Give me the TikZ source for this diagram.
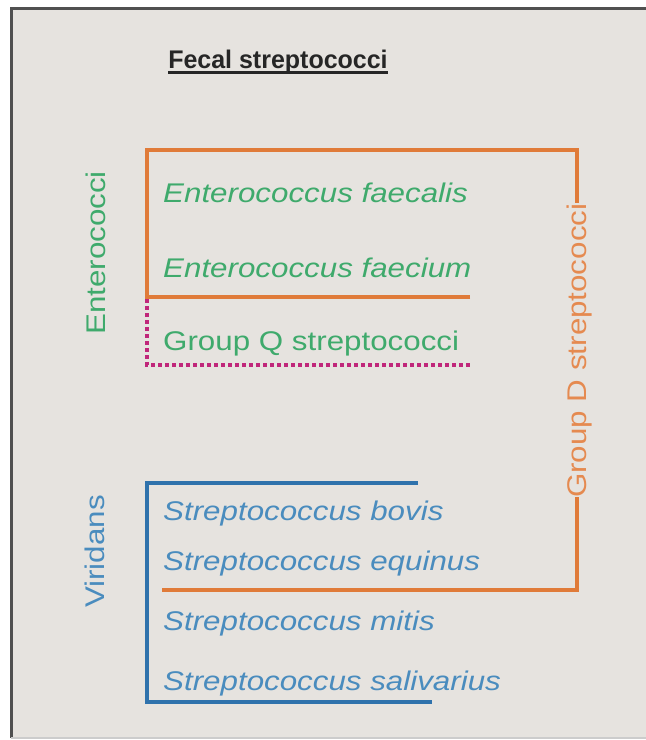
\documentclass[tikz,border=0pt]{standalone}
\usepackage{fontspec}
\setmainfont{Liberation Sans}[FakeStretch=1.16]
\newfontfamily\titlefont{Liberation Sans}[FakeStretch=0.98]
\definecolor{bgc}{HTML}{E6E3DF}
\definecolor{framec}{HTML}{505050}
\definecolor{orangel}{HTML}{E07B39}
\definecolor{oranget}{HTML}{E58A50}
\definecolor{greent}{HTML}{3FAA6C}
\definecolor{bluel}{HTML}{2F72AC}
\definecolor{bluet}{HTML}{4A8CBE}
\definecolor{pinkl}{HTML}{C0267A}
\definecolor{titlec}{HTML}{262626}
\tikzset{
  lbl/.style={inner sep=0pt, anchor=base west, font=\fontsize{27}{32}\selectfont},
  sp/.style={lbl, font=\fontsize{27}{32}\selectfont\itshape},
  side/.style={lbl, rotate=90},
  obr/.style={draw=orangel, line width=4pt},
  bbr/.style={draw=bluel, line width=4pt},
  qbr/.style={draw=pinkl, line width=3.5pt, dash pattern=on 4pt off 3pt}
}
\begin{document}
\begin{tikzpicture}[x=1pt,y=-1pt]
\useasboundingbox (0,0) rectangle (646,740);
\fill[white] (0,0) rectangle (646,740);
\fill[bgc] (11,8) rectangle (646,738);
\draw[framec, line width=3pt] (11,738) -- (11,8) -- (646,8);
\draw[black!20, line width=1.5pt] (11,738) -- (646,738);
% title
\node[inner sep=0pt, anchor=base, text=titlec, font=\titlefont\fontsize{25.5}{30}\selectfont\bfseries] (title) at (278,68) {Fecal streptococci};
\draw[titlec, line width=2.5pt] ([yshift=-4.5pt]title.base west) -- ([yshift=-4.5pt]title.base east);
% enterococci group
\node[sp, text=greent] (faecalis) at (163,202) {Enterococcus faecalis};
\node[sp, text=greent] (faecium) at (163,277) {Enterococcus faecium};
\node[lbl, text=greent] (groupq) at (163,350) {Group Q streptococci};
\node[side, text=greent] (entero) at (105,335) {Enterococci};
% viridans group
\node[sp, text=bluet] (bovis) at (163,520) {Streptococcus bovis};
\node[sp, text=bluet] (equinus) at (163,570) {Streptococcus equinus};
\node[sp, text=bluet] (mitis) at (163,630) {Streptococcus mitis};
\node[sp, text=bluet] (saliv) at (163,690) {Streptococcus salivarius};
\node[side, text=bluet] (virid) at (104,608) {Viridans};
% group D label
\node[side, text=oranget] (groupd) at (586,498) {Group D streptococci};
% brackets
\coordinate (o1) at (577,203);
\coordinate (o2) at (577,497);
\draw[obr] (470,297) -- (147,297) -- (147,150) -- (577,150) -- (o1);
\draw[obr] (o2) -- (577,590) -- (162,590);
\draw[qbr] (147,299) -- (147,365) -- (470,365);
\draw[bbr] (418,483) -- (147,483) -- (147,702) -- (432,702);
\end{tikzpicture}
\end{document}
